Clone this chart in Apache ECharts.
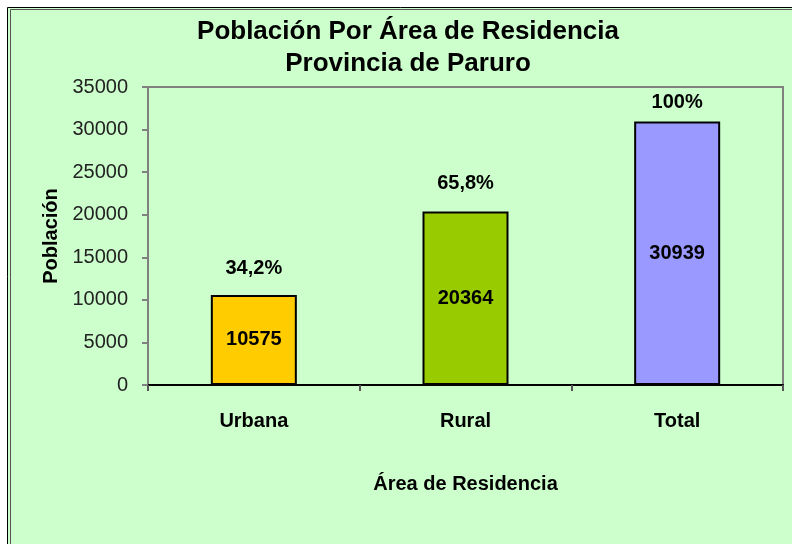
<!DOCTYPE html>
<html>
<head>
<meta charset="utf-8">
<script src="https://cdn.jsdelivr.net/npm/echarts@6/dist/echarts.min.js"></script>
<style>
html,body{margin:0;padding:0;background:#fff;}
#c{width:792px;height:544px;}
</style>
</head>
<body>
<div id="c"></div>
<script>
const categories = ['Urbana', 'Rural', 'Total'];
const population = [10575, 20364, 30939];
const percentLabels = ['34,2%', '65,8%', '100%'];
const barColors = ['#FFCC00', '#99CC00', '#9999FF'];
const yTicks = [0, 5000, 10000, 15000, 20000, 25000, 30000, 35000];

const pctDistance = [16, 18, 9];
const font = 'Liberation Sans, Arial, sans-serif';

const chart = echarts.init(document.getElementById('c'), null, {renderer: 'canvas'});
chart.setOption({
  backgroundColor: 'transparent',
  animation: false,
  graphic: [
    {type: 'rect', silent: true, z: -10, shape: {x: 7.5, y: 7.5, width: 800, height: 560},
     style: {fill: '#CCFFCC', stroke: '#000', lineWidth: 1}},
    {type: 'rect', silent: true, z: -9, shape: {x: 10.5, y: 9.5, width: 800, height: 560},
     style: {fill: 'none', stroke: '#555', lineWidth: 1}}
  ],
  title: {
    text: 'Población Por Área de Residencia\nProvincia de Paruro',
    left: 403, top: 11, textAlign: 'center',
    textStyle: {fontFamily: font, fontSize: 26, fontWeight: 'bold', color: '#000', lineHeight: 32}
  },
  grid: {left: 148, right: 9, top: 87, bottom: 159, show: true, borderColor: '#808080', borderWidth: 2, backgroundColor: 'transparent'},
  xAxis: {
    type: 'category',
    data: categories,
    name: 'Área de Residencia',
    nameLocation: 'middle',
    nameGap: 89,
    nameTextStyle: {fontFamily: font, fontSize: 20, fontWeight: 'bold', color: '#000'},
    axisLine: {lineStyle: {color: '#000', width: 2}},
    axisTick: {show: true, length: 6, alignWithLabel: false, lineStyle: {color: '#555', width: 2}},
    axisLabel: {fontFamily: font, fontSize: 20, fontWeight: 'bold', color: '#000', margin: 26}
  },
  yAxis: {
    type: 'value',
    min: yTicks[0], max: yTicks[yTicks.length - 1], interval: yTicks[1] - yTicks[0],
    name: 'Población',
    nameLocation: 'middle',
    nameGap: 84,
    nameRotate: 90,
    nameTextStyle: {fontFamily: font, fontSize: 20, fontWeight: 'bold', color: '#000'},
    axisLine: {show: true, lineStyle: {color: '#808080', width: 2}},
    axisTick: {show: true, length: 6, lineStyle: {color: '#808080', width: 2}},
    splitLine: {show: false},
    axisLabel: {fontFamily: font, fontSize: 20, color: '#222', margin: 20, formatter: v => String(v)}
  },
  series: [
    {
      type: 'bar',
      barWidth: 86,
      data: population.map((v, i) => ({value: v, itemStyle: {color: barColors[i]}})),
      itemStyle: {borderColor: '#000', borderWidth: 2},
      label: {show: true, position: 'inside', fontFamily: font, fontSize: 20, fontWeight: 'bold', color: '#000'}
    },
    {
      type: 'bar',
      barWidth: 86,
      barGap: '-100%',
      silent: true,
      z: 1,
      itemStyle: {color: 'rgba(0,0,0,0)', borderWidth: 0},
      data: population.map((v, i) => ({
        value: v,
        label: {distance: pctDistance[i], formatter: percentLabels[i]}
      })),
      label: {show: true, position: 'top', fontFamily: font, fontSize: 20, fontWeight: 'bold', color: '#000'}
    }
  ]
});
</script>
</body>
</html>
